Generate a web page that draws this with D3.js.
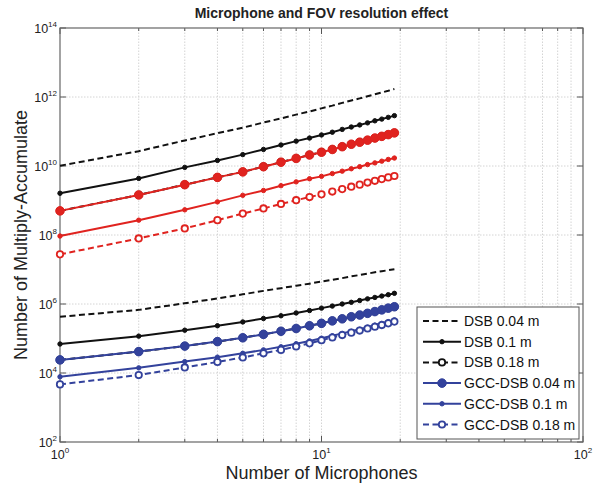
<!DOCTYPE html>
<html>
<head>
<meta charset="utf-8">
<script src="https://cdn.jsdelivr.net/npm/d3@7"></script>
<style>
  body { margin: 0; background: #fff; }
  svg { font-family: "Liberation Sans", Arial, sans-serif; }
</style>
</head>
<body>
<div id="chart"></div>
<script>
// Number of microphones (x)
const mics = [1, 2, 3, 4, 5, 6, 7, 8, 9, 10, 11, 12, 13, 14, 15, 16, 17, 18, 19];

// Upper group (black DSB + red)
const dsb004Upper = [1.02e10, 2.69e10, 5.50e10, 8.91e10, 1.29e11, 1.82e11, 2.40e11, 3.09e11, 3.80e11, 4.68e11, 5.62e11, 6.76e11, 7.94e11, 9.12e11, 1.05e12, 1.20e12, 1.35e12, 1.51e12, 1.70e12];
const dsb01Upper = [1.62e9, 4.37e9, 9.12e9, 1.45e10, 2.14e10, 3.02e10, 4.07e10, 5.25e10, 6.46e10, 7.94e10, 9.55e10, 1.15e11, 1.35e11, 1.55e11, 1.78e11, 2.04e11, 2.29e11, 2.57e11, 2.88e11];
const dsb018Upper = [5.01e8, 1.45e9, 2.88e9, 4.68e9, 6.76e9, 9.55e9, 1.29e10, 1.66e10, 2.09e10, 2.51e10, 3.02e10, 3.63e10, 4.27e10, 4.90e10, 5.62e10, 6.46e10, 7.24e10, 8.13e10, 9.12e10];
const red004 = [5.01e8, 1.45e9, 2.88e9, 4.68e9, 6.76e9, 9.55e9, 1.29e10, 1.66e10, 2.09e10, 2.51e10, 3.02e10, 3.63e10, 4.27e10, 4.90e10, 5.62e10, 6.46e10, 7.24e10, 8.13e10, 9.12e10];
const red01 = [9.33e7, 2.69e8, 5.37e8, 9.12e8, 1.41e9, 1.95e9, 2.69e9, 3.47e9, 4.27e9, 5.01e9, 6.03e9, 7.08e9, 8.32e9, 9.55e9, 1.10e10, 1.23e10, 1.38e10, 1.55e10, 1.70e10];
const red018 = [2.75e7, 7.94e7, 1.55e8, 2.69e8, 4.17e8, 5.89e8, 7.94e8, 1.02e9, 1.26e9, 1.51e9, 1.82e9, 2.14e9, 2.51e9, 2.88e9, 3.31e9, 3.72e9, 4.17e9, 4.68e9, 5.13e9];

// Lower group (black DSB + blue GCC-DSB)
const dsb004Lower = [4.27e5, 6.76e5, 1.05e6, 1.45e6, 1.91e6, 2.40e6, 2.88e6, 3.39e6, 3.89e6, 4.47e6, 5.01e6, 5.62e6, 6.31e6, 6.92e6, 7.59e6, 8.32e6, 8.91e6, 9.55e6, 1.02e7];
const dsb01Lower = [6.92e4, 1.17e5, 1.74e5, 2.34e5, 3.02e5, 3.80e5, 4.57e5, 5.50e5, 6.46e5, 7.59e5, 8.71e5, 1.00e6, 1.12e6, 1.26e6, 1.41e6, 1.55e6, 1.70e6, 1.86e6, 2.04e6];
const dsb018Lower = [2.40e4, 4.17e4, 6.03e4, 8.13e4, 1.05e5, 1.32e5, 1.62e5, 1.95e5, 2.34e5, 2.75e5, 3.24e5, 3.72e5, 4.27e5, 4.79e5, 5.37e5, 6.03e5, 6.76e5, 7.59e5, 8.32e5];
const gcc004 = [2.40e4, 4.17e4, 6.03e4, 8.13e4, 1.05e5, 1.32e5, 1.62e5, 1.95e5, 2.34e5, 2.75e5, 3.24e5, 3.72e5, 4.27e5, 4.79e5, 5.37e5, 6.03e5, 6.76e5, 7.59e5, 8.32e5];
const gcc01 = [7.76e3, 1.41e4, 2.14e4, 2.88e4, 3.72e4, 4.68e4, 5.75e4, 7.08e4, 8.51e4, 1.02e5, 1.20e5, 1.41e5, 1.62e5, 1.86e5, 2.14e5, 2.45e5, 2.75e5, 3.09e5, 3.47e5];
const gcc018 = [4.68e3, 8.71e3, 1.45e4, 2.09e4, 2.82e4, 3.72e4, 4.68e4, 5.89e4, 7.24e4, 8.91e4, 1.07e5, 1.26e5, 1.48e5, 1.70e5, 1.95e5, 2.19e5, 2.45e5, 2.75e5, 3.09e5];

const yTickValues = [1e2, 1e4, 1e6, 1e8, 1e10, 1e12, 1e14];
const yTickExp = ['2', '4', '6', '8', '10', '12', '14'];
const xTickValues = [1, 10, 100];
const xTickExp = ['0', '1', '2'];
const legendLabels = ['DSB 0.04 m', 'DSB 0.1 m', 'DSB 0.18 m', 'GCC-DSB 0.04 m', 'GCC-DSB 0.1 m', 'GCC-DSB 0.18 m'];

const BLACK = '#111', RED = '#e0231f', BLUE = '#33429c';

// line style per series: dash, marker kind
const styles = {
    dash: { dash: '6,3.5', marker: 'none' },
    dot: { dash: null, marker: 'dot' },
    open: { dash: '6,3.5', marker: 'open' },
    big: { dash: null, marker: 'big' }
};

// draw order matters (later on top)
const series = [
    { values: dsb004Upper, color: BLACK, style: 'dash' },
    { values: dsb01Upper, color: BLACK, style: 'dot' },
    { values: dsb018Upper, color: BLACK, style: 'open' },
    { values: red004, color: RED, style: 'big' },
    { values: red01, color: RED, style: 'dot' },
    { values: red018, color: RED, style: 'open' },
    { values: dsb004Lower, color: BLACK, style: 'dash' },
    { values: dsb01Lower, color: BLACK, style: 'dot' },
    { values: dsb018Lower, color: BLACK, style: 'open' },
    { values: gcc004, color: BLUE, style: 'big' },
    { values: gcc01, color: BLUE, style: 'dot' },
    { values: gcc018, color: BLUE, style: 'open' }
];

const width = 594;
const height = 491;
const margin = { top: 28, right: 11, bottom: 49, left: 60 };

const svg = d3.select('#chart').append('svg')
    .attr('width', width)
    .attr('height', height);

const x = d3.scaleLog().domain([1, 100]).range([margin.left, width - margin.right]);
const y = d3.scaleLog().domain([1e2, 1e14]).range([height - margin.bottom, margin.top]);

const x0 = margin.left, x1 = width - margin.right;
const y0 = height - margin.bottom, y1 = margin.top;

// grid
const xMinor = x.ticks();
svg.append('g').selectAll('line')
    .data(xMinor.filter(d => d > 1 && d < 100))
    .join('line')
    .attr('x1', d => x(d)).attr('x2', d => x(d))
    .attr('y1', y0).attr('y2', y1)
    .attr('stroke', '#d4d4d4')
    .attr('stroke-dasharray', '1.5,1.5');

svg.append('g').selectAll('line')
    .data(yTickValues.slice(1, -1))
    .join('line')
    .attr('x1', x0).attr('x2', x1)
    .attr('y1', d => y(d)).attr('y2', d => y(d))
    .attr('stroke', '#d4d4d4')
    .attr('stroke-dasharray', '1.5,1.5');

// ticks (inward, on all four sides)
const ticks = svg.append('g').attr('stroke', '#555').attr('stroke-width', 1);
xMinor.forEach(d => {
    const len = xTickValues.includes(d) ? 6 : 3;
    ticks.append('line').attr('x1', x(d)).attr('x2', x(d)).attr('y1', y0).attr('y2', y0 - len);
    ticks.append('line').attr('x1', x(d)).attr('x2', x(d)).attr('y1', y1).attr('y2', y1 + len);
});
yTickValues.forEach(d => {
    ticks.append('line').attr('x1', x0).attr('x2', x0 + 6).attr('y1', y(d)).attr('y2', y(d));
    ticks.append('line').attr('x1', x1).attr('x2', x1 - 6).attr('y1', y(d)).attr('y2', y(d));
});

// frame
svg.append('rect')
    .attr('x', x0).attr('y', y1)
    .attr('width', x1 - x0).attr('height', y0 - y1)
    .attr('fill', 'none')
    .attr('stroke', '#666')
    .attr('stroke-width', 1.2);

// tick labels: "10" with superscript exponent
function powerLabel(sel, exp) {
    sel.append('tspan').text('10');
    sel.append('tspan').attr('dy', -6).attr('font-size', 8).text(exp);
}
yTickValues.forEach((d, i) => {
    const t = svg.append('text')
        .attr('x', x0 - 3)
        .attr('y', y(d) + 5)
        .attr('text-anchor', 'end')
        .attr('font-size', 12.5)
        .attr('fill', '#222');
    powerLabel(t, yTickExp[i]);
});
xTickValues.forEach((d, i) => {
    const t = svg.append('text')
        .attr('x', x(d))
        .attr('y', y0 + 17)
        .attr('text-anchor', 'middle')
        .attr('font-size', 12.5)
        .attr('fill', '#222');
    powerLabel(t, xTickExp[i]);
});

// series
const line = d3.line()
    .x((d, i) => x(mics[i]))
    .y(d => y(d));

function drawMarkers(g, pts, color, kind) {
    if (kind === 'none') return;
    const r = kind === 'big' ? 4.3 : kind === 'open' ? 3.2 : 2.2;
    g.selectAll('circle')
        .data(pts)
        .join('circle')
        .attr('cx', d => d[0]).attr('cy', d => d[1])
        .attr('r', r)
        .attr('fill', kind === 'open' ? '#fff' : color)
        .attr('stroke', color)
        .attr('stroke-width', kind === 'open' ? 1.8 : 1);
}

series.forEach(s => {
    const st = styles[s.style];
    const g = svg.append('g');
    g.append('path')
        .datum(s.values)
        .attr('d', line)
        .attr('fill', 'none')
        .attr('stroke', s.color)
        .attr('stroke-width', 2)
        .attr('stroke-dasharray', st.dash);
    drawMarkers(g, s.values.map((v, i) => [x(mics[i]), y(v)]), s.color, st.marker);
});

// title and axis labels
svg.append('text')
    .attr('x', (x0 + x1) / 2).attr('y', 18)
    .attr('text-anchor', 'middle')
    .attr('font-size', 14).attr('font-weight', 'bold')
    .attr('fill', '#222')
    .text('Microphone and FOV resolution effect');

svg.append('text')
    .attr('x', (x0 + x1) / 2).attr('y', 479)
    .attr('text-anchor', 'middle')
    .attr('font-size', 18)
    .attr('fill', '#222')
    .text('Number of Microphones');

svg.append('text')
    .attr('transform', 'translate(27,' + ((y0 + y1) / 2) + ') rotate(-90)')
    .attr('text-anchor', 'middle')
    .attr('font-size', 18)
    .attr('fill', '#222')
    .text('Number of Multiply-Accumulate');

// legend
const legendStyles = ['dash', 'dot', 'open', 'big', 'dot', 'open'];
const legendColors = [BLACK, BLACK, BLACK, BLUE, BLUE, BLUE];
const lg = svg.append('g').attr('transform', 'translate(417,307)');
lg.append('rect')
    .attr('width', 162).attr('height', 132)
    .attr('fill', '#fff')
    .attr('stroke', '#555')
    .attr('stroke-width', 1);
legendLabels.forEach((label, i) => {
    const yy = 14 + i * 20.7;
    const st = styles[legendStyles[i]];
    const row = lg.append('g');
    row.append('line')
        .attr('x1', 6).attr('x2', 44)
        .attr('y1', yy).attr('y2', yy)
        .attr('stroke', legendColors[i])
        .attr('stroke-width', 2)
        .attr('stroke-dasharray', st.dash);
    drawMarkers(row, [[25, yy]], legendColors[i], st.marker);
    row.append('text')
        .attr('x', 47).attr('y', yy + 5)
        .attr('font-size', 14)
        .attr('fill', '#111')
        .text(label);
});
</script>
</body>
</html>
